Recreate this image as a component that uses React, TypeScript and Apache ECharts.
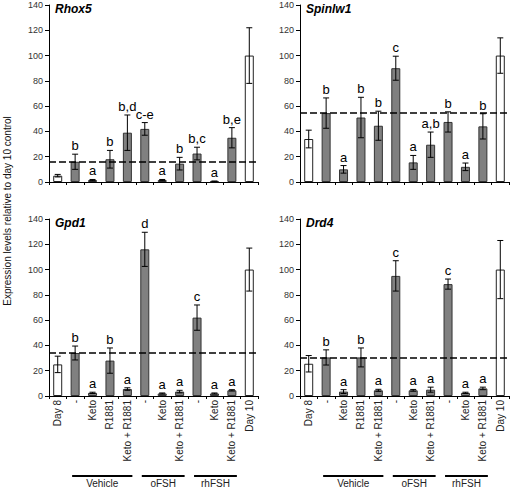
import React, { useEffect, useRef } from "react";
import * as echarts from "echarts";

// ---------- data ----------
const categories = [
  "Day 8", "-", "Keto", "R1881", "Keto + R1881",
  "-", "Keto", "Keto + R1881",
  "-", "Keto", "Keto + R1881", "Day 10",
];

const groupNames = ["Vehicle", "oFSH", "rhFSH"];
const groupFirst = [1, 5, 8];
const groupLast = [4, 7, 10];

const geneNames = ["Rhox5", "Spinlw1", "Gpd1", "Drd4"];

const rhox5Mean = [5, 16, 1.5, 18, 39, 42, 1.5, 14.5, 22.5, 0.5, 35, 100];
const rhox5Err = [1, 6, 0.5, 7, 14, 5, 0.5, 5, 5, 0.3, 8, 22];
const rhox5Letters = ["", "b", "a", "b", "b,d", "c-e", "a", "b", "b,c", "a", "b,e", ""];

const spinlw1Mean = [34, 54.5, 10, 51, 44.5, 90, 15.5, 29.5, 47.5, 12, 44, 100];
const spinlw1Err = [7, 12, 3, 16, 11.5, 9.5, 5.5, 10, 8, 3, 10, 14];
const spinlw1Letters = ["", "b", "a", "b", "b", "c", "a", "a,b", "b", "a", "b", ""];

const gpd1Mean = [25, 34, 2.5, 28, 5.5, 116, 2, 3.5, 62, 2, 4.5, 100];
const gpd1Err = [6.5, 5.5, 0.5, 10, 1, 13.5, 0.4, 1, 10, 0.4, 0.5, 17];
const gpd1Letters = ["", "b", "a", "b", "a", "d", "a", "a", "c", "a", "a", ""];

const drd4Mean = [25.5, 30.5, 3.5, 30.5, 4.5, 95, 4.5, 5, 88.5, 2.5, 6, 100];
const drd4Err = [6.5, 6, 1.5, 7.5, 0.8, 12, 0.7, 2, 4, 0.5, 1, 23];
const drd4Letters = ["", "b", "a", "b", "a", "c", "a", "a", "c", "a", "a", ""];

const geneMeans = [rhox5Mean, spinlw1Mean, gpd1Mean, drd4Mean];
const geneErrs = [rhox5Err, spinlw1Err, gpd1Err, drd4Err];
const geneLetters = [rhox5Letters, spinlw1Letters, gpd1Letters, drd4Letters];

const yTitle = "Expression levels relative to day 10 control";

// ---------- layout ----------
const FONT = "'Liberation Sans', Arial, Helvetica, sans-serif";
const GRID_POS = [
  { left: 49, top: 5 },
  { left: 300, top: 5 },
  { left: 49, top: 219 },
  { left: 300, top: 219 },
];
const GW = 209;
const GH = 177;

export default function App() {
  const ref = useRef<HTMLDivElement>(null);

  useEffect(() => {
    document.body.style.margin = "0";
    if (!ref.current) return;
    const chart = echarts.init(ref.current, null, { renderer: "svg" });

    const grids = GRID_POS.map((p) => ({ left: p.left, top: p.top, width: GW, height: GH }));

    const xAxes = GRID_POS.map((_, g) => ({
      type: "category",
      gridIndex: g,
      data: categories,
      axisLine: { show: true, lineStyle: { color: "#000", width: 1 } },
      axisTick: { show: true, length: 3, lineStyle: { color: "#000" } },
      axisLabel: {
        show: g >= 2,
        rotate: 90,
        interval: 0,
        fontSize: 10,
        fontFamily: FONT,
        color: "#222",
        margin: 4,
      },
      splitLine: { show: false },
    }));

    const yAxes = GRID_POS.map((_, g) => ({
      type: "value",
      gridIndex: g,
      min: 0,
      max: 140,
      interval: 20,
      axisLine: { show: true, lineStyle: { color: "#000", width: 1 } },
      axisTick: { show: true, length: 4, lineStyle: { color: "#000" } },
      axisLabel: { fontSize: 9, fontFamily: FONT, color: "#333", margin: 6 },
      splitLine: { show: false },
    }));

    const series: any[] = [];
    geneNames.forEach((name, g) => {
      const means = geneMeans[g];
      const errs = geneErrs[g];
      const letters = geneLetters[g];
      series.push({
        type: "bar",
        name,
        xAxisIndex: g,
        yAxisIndex: g,
        barWidth: 9,
        data: means.map((v, i) => ({
          value: v,
          itemStyle: categories[i].startsWith("Day")
            ? { color: "#fff", borderColor: "#222", borderWidth: 1 }
            : { color: "#808080", borderColor: "#333", borderWidth: 1 },
        })),
        markLine: {
          silent: true,
          symbol: ["none", "none"],
          label: { show: false },
          lineStyle: { color: "#000", type: [7, 3], width: 1.6 },
          data: [{ yAxis: means[1] }],
        },
        z: 2,
      });
      series.push({
        type: "custom",
        name: name + " err",
        xAxisIndex: g,
        yAxisIndex: g,
        z: 5,
        itemStyle: { color: "#000" },
        data: means.map((v, i) => [i, v, errs[i]]),
        renderItem: (params: any, api: any) => {
          const i = api.value(0);
          const m = api.value(1);
          const e = api.value(2);
          const top = api.coord([i, m + e]);
          const bot = api.coord([i, Math.max(m - e, 0)]);
          const half = 3;
          const children: any[] = [
            { type: "line", shape: { x1: top[0], y1: top[1], x2: bot[0], y2: bot[1] }, style: { stroke: "#000", lineWidth: 1 } },
            { type: "line", shape: { x1: top[0] - half, y1: top[1], x2: top[0] + half, y2: top[1] }, style: { stroke: "#000", lineWidth: 1 } },
            { type: "line", shape: { x1: bot[0] - half, y1: bot[1], x2: bot[0] + half, y2: bot[1] }, style: { stroke: "#000", lineWidth: 1 } },
          ];
          const letter = letters[params.dataIndex];
          if (letter) {
            children.push({
              type: "text",
              x: top[0],
              y: top[1] - 2,
              style: {
                text: letter,
                align: "center",
                verticalAlign: "bottom",
                fontSize: 13,
                fontFamily: FONT,
                fill: "#000",
              },
            });
          }
          return { type: "group", children };
        },
      });
    });

    const titleGraphics = geneNames.map((n, g) => ({
      type: "text",
      left: GRID_POS[g].left + 6,
      top: GRID_POS[g].top - 2,
      style: {
        text: n,
        fontSize: 12,
        fontWeight: "bold",
        fontStyle: "italic",
        fontFamily: FONT,
        fill: "#000",
      },
    }));

    const option: any = {
      animation: false,
      backgroundColor: "#fff",
      grid: grids,
      xAxis: xAxes,
      yAxis: yAxes,
      series,
      graphic: [
        {
          type: "text",
          x: 7,
          y: 211,
          rotation: Math.PI / 2,
          style: {
            text: yTitle,
            fontSize: 10,
            fontFamily: FONT,
            fill: "#111",
            align: "center",
            verticalAlign: "middle",
          },
        },
        ...titleGraphics,
      ],
    };
    chart.setOption(option);

    // group bars under the bottom panels
    const extra: any[] = [];
    [2, 3].forEach((g) => {
      groupNames.forEach((gn, k) => {
        const p1 = chart.convertToPixel({ xAxisIndex: g } as any, groupFirst[k]) as any;
        const p2 = chart.convertToPixel({ xAxisIndex: g } as any, groupLast[k]) as any;
        const x1 = (typeof p1 === "number" ? p1 : p1[0]) - 3;
        const x2 = (typeof p2 === "number" ? p2 : p2[0]) + 5;
        extra.push({
          type: "line",
          shape: { x1, y1: 476, x2, y2: 476 },
          style: { stroke: "#000", lineWidth: 2 },
        });
        extra.push({
          type: "text",
          x: (x1 + x2) / 2,
          y: 478,
          style: {
            text: gn,
            fontSize: 10,
            fontFamily: FONT,
            fill: "#222",
            align: "center",
            verticalAlign: "top",
          },
        });
      });
    });
    chart.setOption({ graphic: [...option.graphic, ...extra] });

    return () => chart.dispose();
  }, []);

  return <div ref={ref} style={{ width: 510, height: 487 }} />;
}
